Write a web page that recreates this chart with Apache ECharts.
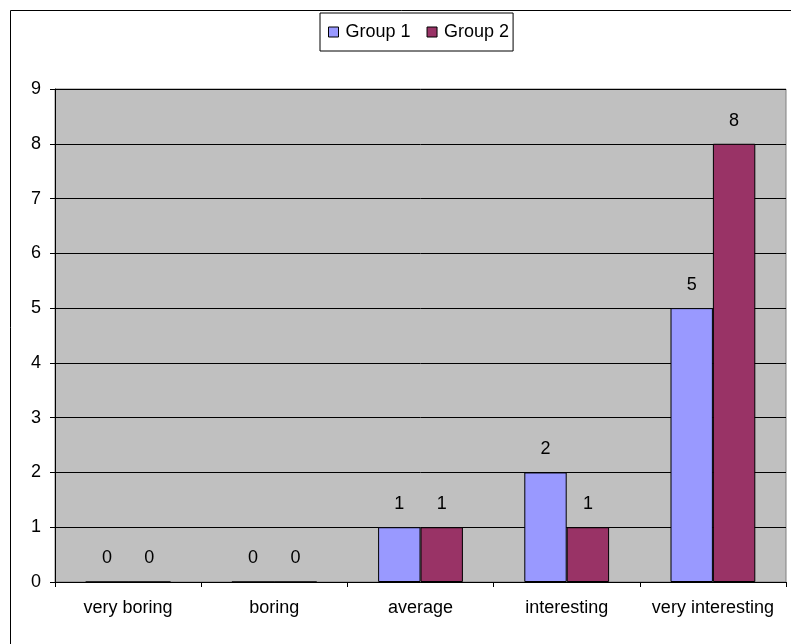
<!DOCTYPE html>
<html>
<head>
<meta charset="utf-8">
<script src="https://cdn.jsdelivr.net/npm/echarts@6/dist/echarts.min.js"></script>
<style>
  html, body { margin: 0; padding: 0; background: #fff; }
  #chart { width: 791px; height: 644px; }
</style>
</head>
<body>
<div id="chart"></div>
<script>
// Survey answers: how interesting the course was, per group
const categories = ['very boring', 'boring', 'average', 'interesting', 'very interesting'];
const group1 = [0, 0, 1, 2, 5];
const group2 = [0, 0, 1, 1, 8];
const seriesNames = ['Group 1', 'Group 2'];
const yTicks = [0, 1, 2, 3, 4, 5, 6, 7, 8, 9];

const font = 'Arial, "Liberation Sans", sans-serif';
const fs = 18;
const chart = echarts.init(document.getElementById('chart'), null, { renderer: 'canvas' });

const barLabel = {
  show: true,
  position: 'top',
  distance: 14,
  color: '#000',
  fontSize: fs,
  fontFamily: font
};

chart.setOption({
  animation: false,
  backgroundColor: '#fff',
  graphic: [{
    type: 'rect',
    left: 8, top: 8,
    shape: { width: 820, height: 700 },
    style: { fill: 'none', stroke: '#000', lineWidth: 1 },
    z: 0
  }],
  legend: {
    data: seriesNames,
    left: 320,
    top: 13,
    orient: 'horizontal',
    padding: [10, 4, 10, 8],
    itemWidth: 10,
    itemHeight: 10,
    itemGap: 16,
    icon: 'rect',
    borderColor: '#000',
    borderWidth: 1,
    backgroundColor: '#fff',
    itemStyle: { borderColor: '#000', borderWidth: 1 },
    textStyle: { color: '#000', fontSize: fs, fontFamily: font, padding: [0, 0, 0, 2] }
  },
  grid: {
    left: 55, right: 5, top: 89, bottom: 62,
    show: true,
    backgroundColor: '#C0C0C0',
    borderColor: '#808080',
    borderWidth: 1,
    containLabel: false
  },
  xAxis: {
    type: 'category',
    data: categories,
    axisLine: { show: true, lineStyle: { color: '#000', width: 1 } },
    axisTick: { show: true, interval: 0, alignWithLabel: false, length: 5, lineStyle: { color: '#000' } },
    axisLabel: { interval: 0, color: '#000', fontSize: fs, fontFamily: font, margin: 17 },
    splitLine: { show: false }
  },
  yAxis: {
    type: 'value',
    min: yTicks[0],
    max: yTicks[yTicks.length - 1],
    interval: 1,
    axisLine: { show: true, lineStyle: { color: '#000', width: 1 } },
    axisTick: { show: true, length: 5, lineStyle: { color: '#000' } },
    axisLabel: { color: '#000', fontSize: fs, fontFamily: font, margin: 14 },
    splitLine: { show: true, lineStyle: { color: '#000', width: 1 } }
  },
  series: [
    {
      name: seriesNames[0],
      type: 'bar',
      data: group1,
      barGap: '0%',
      barCategoryGap: '42%',
      itemStyle: { color: '#9999FF', borderColor: '#000', borderWidth: 1 },
      label: barLabel
    },
    {
      name: seriesNames[1],
      type: 'bar',
      data: group2,
      barGap: '0%',
      barCategoryGap: '42%',
      itemStyle: { color: '#993366', borderColor: '#000', borderWidth: 1 },
      label: barLabel
    }
  ]
});
</script>
</body>
</html>
